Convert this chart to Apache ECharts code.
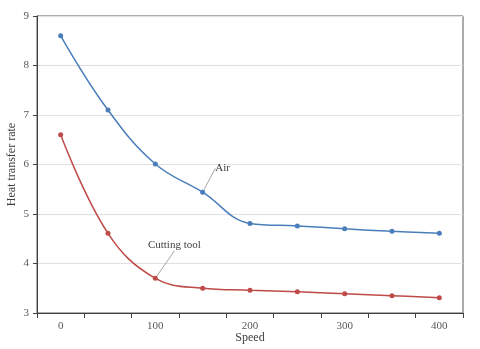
<!DOCTYPE html>
<html>
<head>
<meta charset="utf-8">
<script src="https://cdn.jsdelivr.net/npm/echarts@6/dist/echarts.min.js"></script>
<style>
  html, body { margin: 0; padding: 0; background: #fff; }
  #chart { width: 480px; height: 349px; }
</style>
</head>
<body>
<div id="chart"></div>
<script>
const speeds = ['0', '50', '100', '150', '200', '250', '300', '350', '400'];
const airRate = [8.6, 7.1, 6.01, 5.44, 4.81, 4.76, 4.7, 4.65, 4.61];
const toolRate = [6.6, 4.61, 3.7, 3.5, 3.46, 3.43, 3.39, 3.35, 3.31];

const font = 'Liberation Serif';
const chart = echarts.init(document.getElementById('chart'));

// only one point per series carries its name
const tagged = (vals, idx, text) => vals.map((v, i) => i === idx
  ? { value: v, label: { show: true, formatter: text } }
  : v);

chart.setOption({
  animation: false,
  grid: {
    left: 37, right: 17, top: 16, bottom: 36,
    outerBoundsMode: 'none', containLabel: false,
    show: true, borderColor: '#595959', borderWidth: 1
  },
  xAxis: {
    type: 'category',
    data: speeds,
    boundaryGap: true,
    name: 'Speed',
    nameLocation: 'middle',
    nameGap: 19,
    nameMoveOverlap: false,
    nameTextStyle: { fontFamily: font, fontSize: 12, color: '#404040' },
    axisLine: { lineStyle: { color: '#404040' } },
    axisTick: { show: true, interval: 0, lineStyle: { color: '#404040' } },
    axisLabel: { interval: 1, fontFamily: font, fontSize: 11, color: '#595959', margin: 8 },
    splitLine: { show: false }
  },
  yAxis: {
    type: 'value',
    min: 3,
    max: 9,
    interval: 1,
    name: 'Heat transfer rate',
    nameLocation: 'middle',
    nameGap: 19,
    nameMoveOverlap: false,
    nameTextStyle: { fontFamily: font, fontSize: 12, color: '#404040' },
    axisLine: { show: true, lineStyle: { color: '#404040' } },
    axisTick: { show: true, length: 4, lineStyle: { color: '#404040' } },
    axisLabel: { fontFamily: font, fontSize: 11, color: '#595959', margin: 8 },
    splitLine: { lineStyle: { color: '#e0e0e0' } }
  },
  series: [
    {
      name: 'Air',
      type: 'line',
      smooth: 0.4,
      data: tagged(airRate, 3, 'Air'),
      symbol: 'circle',
      symbolSize: 5,
      lineStyle: { color: '#4a7ebb', width: 1.5 },
      itemStyle: { color: '#4a7ebb' },
      label: { position: 'top', fontFamily: font, fontSize: 11, color: '#404040' },
      labelLayout: { dx: 20, dy: -11 },
      labelLine: { show: true, lineStyle: { color: '#a6a6a6', width: 1 } }
    },
    {
      name: 'Cutting tool',
      type: 'line',
      smooth: 0.4,
      data: tagged(toolRate, 2, 'Cutting tool'),
      symbol: 'circle',
      symbolSize: 5,
      lineStyle: { color: '#be4b48', width: 1.5 },
      itemStyle: { color: '#be4b48' },
      label: { position: 'top', fontFamily: font, fontSize: 11, color: '#404040' },
      labelLayout: { dx: 19, dy: -20 },
      labelLine: { show: true, lineStyle: { color: '#a6a6a6', width: 1 } }
    }
  ]
});
</script>
</body>
</html>
